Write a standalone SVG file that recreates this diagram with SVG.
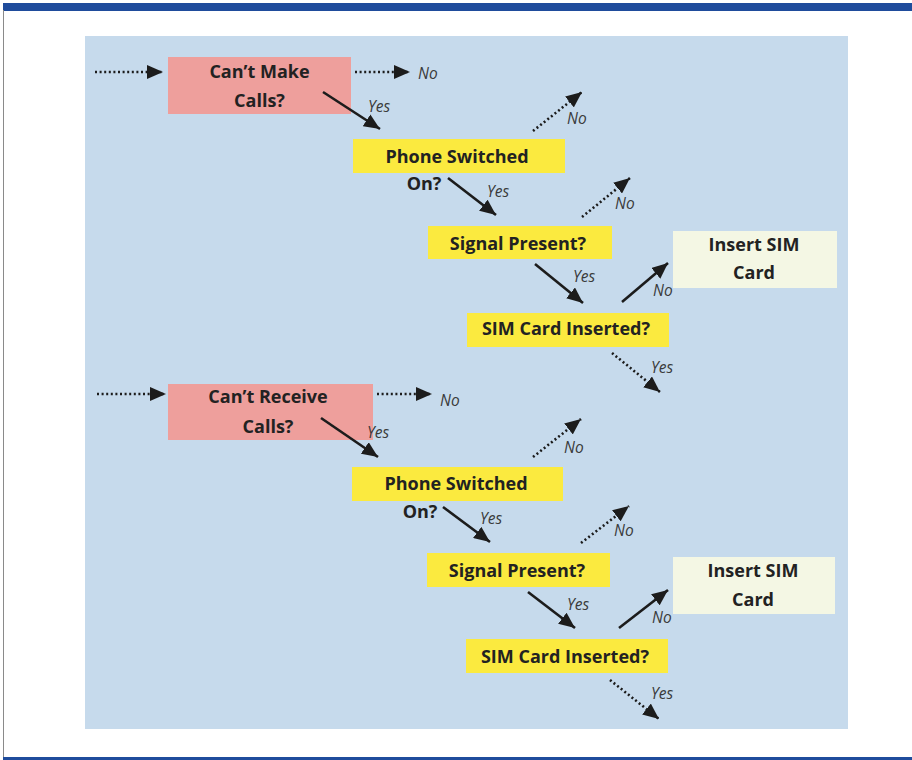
<svg xmlns="http://www.w3.org/2000/svg" width="912" height="760" viewBox="0 0 912 760">
  <defs>
    <marker id="ah" markerUnits="userSpaceOnUse" markerWidth="17" markerHeight="14" refX="16" refY="7" orient="auto">
      <path d="M0,0 L16,7 L0,14 z" fill="#1c1c1c"/>
    </marker>
    <style>
      .bg { fill: #c6daec; }
      .pink { fill: #ee9f9c; }
      .yel { fill: #fbea3f; }
      .pale { fill: #f4f7e4; }
      .t { font-family: "Open Sans", "Liberation Sans", sans-serif; font-weight: 700; font-size: 18px; fill: #222; text-anchor: middle; }
      .lbl { font-family: "Open Sans", "Liberation Sans", sans-serif; font-style: italic; font-size: 15.5px; fill: #3a3a3a; }
      .solid { stroke: #1c1c1c; stroke-width: 2.6; fill: none; marker-end: url(#ah); }
      .dot { stroke: #1c1c1c; stroke-width: 2.6; stroke-dasharray: 2 2.6; fill: none; marker-end: url(#ah); }
    </style>
  </defs>

  <rect x="0" y="0" width="912" height="760" fill="#ffffff"/>
  <rect x="3" y="3" width="909" height="8" fill="#1f4c9c"/>
  <line x1="3.5" y1="10" x2="3.5" y2="758" stroke="#8a8a8a" stroke-width="1"/>
  <rect x="3" y="757" width="909" height="3" fill="#1f4c9c"/>
  <rect class="bg" x="85" y="36" width="763" height="693"/>

  <g id="n1">
    <rect class="pink" x="168" y="57" width="183" height="57"/>
    <text class="t" x="259.5" y="78">Can’t Make</text>
    <text class="t" x="259.5" y="107">Calls?</text>
  </g>
  <g id="n2">
    <rect class="yel" x="353" y="139" width="212" height="34"/>
    <text class="t" x="457" y="163">Phone Switched</text>
    <text class="t" x="424" y="190">On?</text>
  </g>
  <g id="n3">
    <rect class="yel" x="428" y="226" width="184" height="33"/>
    <text class="t" x="518" y="250">Signal Present?</text>
  </g>
  <g id="n4">
    <rect class="yel" x="467" y="313" width="202" height="34"/>
    <text class="t" x="566" y="335">SIM Card Inserted?</text>
  </g>
  <g id="n5">
    <rect class="pale" x="673" y="231" width="164" height="57"/>
    <text class="t" x="754" y="251">Insert SIM</text>
    <text class="t" x="754" y="279">Card</text>
  </g>

  <g id="n6">
    <rect class="pink" x="168" y="384" width="205" height="56"/>
    <text class="t" x="268" y="403">Can’t Receive</text>
    <text class="t" x="268" y="433">Calls?</text>
  </g>
  <g id="n7">
    <rect class="yel" x="352" y="467" width="211" height="34"/>
    <text class="t" x="456" y="490">Phone Switched</text>
    <text class="t" x="420" y="518">On?</text>
  </g>
  <g id="n8">
    <rect class="yel" x="427" y="553" width="183" height="34"/>
    <text class="t" x="517" y="577">Signal Present?</text>
  </g>
  <g id="n9">
    <rect class="yel" x="466" y="639" width="202" height="34"/>
    <text class="t" x="565" y="663">SIM Card Inserted?</text>
  </g>
  <g id="n10">
    <rect class="pale" x="673" y="557" width="162" height="57"/>
    <text class="t" x="753" y="577">Insert SIM</text>
    <text class="t" x="753" y="606">Card</text>
  </g>

  <g id="connectors">
    <line class="dot" x1="95" y1="72" x2="163" y2="72"/>
    <line class="dot" x1="355" y1="72" x2="410" y2="72"/>
    <text class="lbl" x="418" y="79">No</text>
    <line class="solid" x1="323" y1="92" x2="380" y2="129"/>
    <text class="lbl" x="368" y="112">Yes</text>
    <line class="dot" x1="533" y1="131" x2="582" y2="92"/>
    <text class="lbl" x="567" y="124">No</text>
    <line class="solid" x1="448" y1="178" x2="496" y2="215"/>
    <text class="lbl" x="487" y="197">Yes</text>
    <line class="dot" x1="582" y1="217" x2="630" y2="178"/>
    <text class="lbl" x="615" y="209">No</text>
    <line class="solid" x1="535" y1="264" x2="583" y2="303"/>
    <text class="lbl" x="573" y="282">Yes</text>
    <line class="solid" x1="622" y1="302" x2="668" y2="263"/>
    <text class="lbl" x="653" y="296">No</text>
    <line class="dot" x1="612" y1="353" x2="660" y2="392"/>
    <text class="lbl" x="651" y="373">Yes</text>

    <line class="dot" x1="97" y1="394" x2="166" y2="394"/>
    <line class="dot" x1="377" y1="394" x2="432" y2="394"/>
    <text class="lbl" x="440" y="406">No</text>
    <line class="solid" x1="321" y1="418" x2="378" y2="457"/>
    <text class="lbl" x="367" y="438">Yes</text>
    <line class="dot" x1="533" y1="457" x2="581" y2="419"/>
    <text class="lbl" x="564" y="453">No</text>
    <line class="solid" x1="443" y1="507" x2="490" y2="542"/>
    <text class="lbl" x="480" y="524">Yes</text>
    <line class="dot" x1="581" y1="543" x2="629" y2="506"/>
    <text class="lbl" x="614" y="536">No</text>
    <line class="solid" x1="528" y1="592" x2="575" y2="628"/>
    <text class="lbl" x="567" y="610">Yes</text>
    <line class="solid" x1="619" y1="628" x2="668" y2="590"/>
    <text class="lbl" x="652" y="623">No</text>
    <line class="dot" x1="610" y1="680" x2="659" y2="719"/>
    <text class="lbl" x="651" y="699">Yes</text>
  </g>
</svg>
